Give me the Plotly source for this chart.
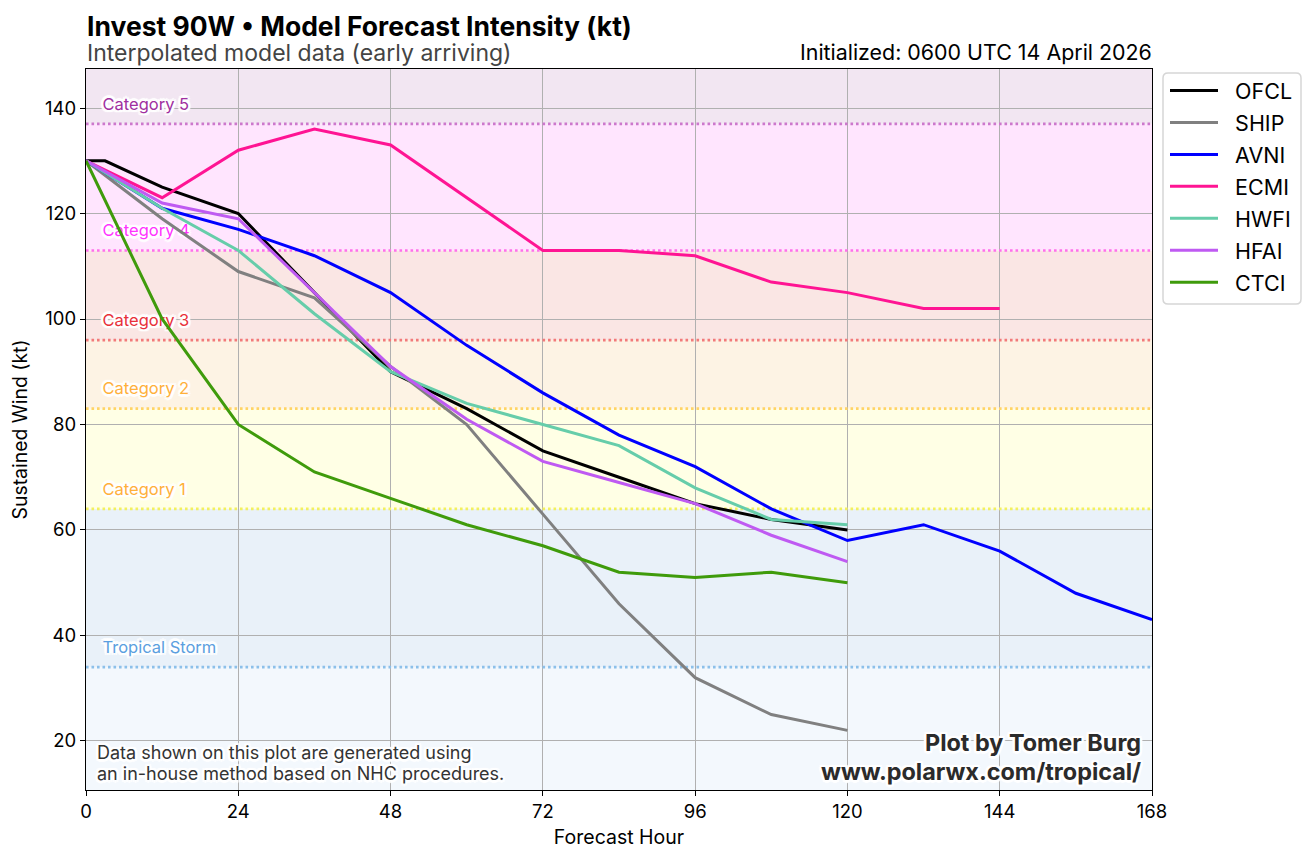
import plotly.graph_objects as go

FONT = "Inter"
HOURS_A = [0, 3, 12, 24, 36, 48, 60, 72, 84, 96, 108, 120]
HOURS = [0, 12, 24, 36, 48, 60, 72, 84, 96, 108, 120, 132, 144, 156, 168]

OFCL = [130, 130, 125, 120, 105, 90, 83, 75, 70, 65, 62, 60]
SHIP = [130, 119, 109, 104, 91, 80, 63, 46, 32, 25, 22]
AVNI = [130, 121, 117, 112, 105, 95, 86, 78, 72, 64, 58, 61, 56, 48, 43]
ECMI = [130, 123, 132, 136, 133, 123, 113, 113, 112, 107, 105, 102, 102]
HWFI = [130, 121, 113, 101, 90, 84, 80, 76, 68, 62, 61]
HFAI = [130, 122, 119, 105, 91, 81, 73, 69, 65, 59, 54]
CTCI = [130, 100, 80, 71, 66, 61, 57, 52, 51, 52, 50]

SERIES = [
    ("OFCL", HOURS_A, OFCL, "#000000"),
    ("SHIP", HOURS, SHIP, "#808080"),
    ("AVNI", HOURS, AVNI, "#0000ff"),
    ("ECMI", HOURS, ECMI, "#ff1493"),
    ("HWFI", HOURS, HWFI, "#66cdaa"),
    ("HFAI", HOURS, HFAI, "#bf5af2"),
    ("CTCI", HOURS, CTCI, "#3f9b0b"),
]

Y_MIN, Y_MAX = 10.7, 147.4
BAND_EDGES = [Y_MIN, 34, 64, 83, 96, 113, 137, Y_MAX]
BAND_FILLS = ["#f3f8fd", "#e9f1f9", "#ffffe5", "#fdf3e4", "#fae6e4", "#ffe5fe", "#f2e6f2"]
THRESHOLDS = [34, 64, 83, 96, 113, 137]
THRESH_COLORS = ["#8cc0ea", "#f2f060", "#ffd466", "#f27a7a", "#ff70ea", "#cc78cc"]
LABELS = ["Tropical Storm", "Category 1", "Category 2", "Category 3", "Category 4", "Category 5"]
LABEL_Y = [37.5, 67.5, 86.5, 99.5, 116.5, 140.5]
LABEL_COLORS = ["#5b9fe0", "#ffb03b", "#ffb03b", "#e8303a", "#ff33ff", "#a02fa0"]
LABEL_X = 2.6
HALO = ("-2px -2px 1px white, 2px -2px 1px white, -2px 2px 1px white, "
        "2px 2px 1px white, 0 2.5px 1px white, 0 -2.5px 1px white, 2.5px 0 1px white, -2.5px 0 1px white")

L, R, T, B = 86, 1152, 69, 790
PAGE_MARGIN = 8  # browser body margin around the plot div
fig = go.Figure()

for lab, y, c in zip(LABELS, LABEL_Y, LABEL_COLORS):
    fig.add_trace(go.Scatter(x=[LABEL_X], y=[y], mode="text", text=[lab], textposition="middle right",
                             textfont=dict(family=FONT, size=16.5, color=c, shadow=HALO),
                             showlegend=False, hoverinfo="skip"))

for name, x, y, c in SERIES:
    fig.add_trace(go.Scatter(x=x[:len(y)], y=y, mode="lines", name="\u00a0\u00a0" + name, legendgroup=name,
                             line=dict(color=c, width=3)))

shapes = []
for lo, hi, c in zip(BAND_EDGES[:-1], BAND_EDGES[1:], BAND_FILLS):
    shapes.append(dict(type="rect", xref="x", yref="y", x0=0, x1=168, y0=lo, y1=hi,
                       fillcolor=c, line_width=0, layer="below"))
for y, c in zip(THRESHOLDS, THRESH_COLORS):
    shapes.append(dict(type="line", xref="x", yref="y", x0=0, x1=168, y0=y, y1=y,
                       line=dict(color=c, width=2.6, dash="2.6px,2.9px"), layer="between"))

W = R - L
H = B - T
px = lambda v: (v - L) / W
py = lambda v: (B - v) / H
x0, x1, y0, y1, r = px(1163), px(1301), py(73), py(304), 5
rx, ry = r / W, r / H
shapes.append(dict(type="path", xref="paper", yref="paper", layer="above",
                   line=dict(color="#d6d6d6", width=1.5), fillcolor="white",
                   path=f"M{x0+rx},{y0} L{x1-rx},{y0} Q{x1},{y0} {x1},{y0-ry} L{x1},{y1+ry} Q{x1},{y1} {x1-rx},{y1} "
                        f"L{x0+rx},{y1} Q{x0},{y1} {x0},{y1+ry} L{x0},{y0-ry} Q{x0},{y0} {x0+rx},{y0} Z"))

notes = [
    dict(text="<b>Invest 90W • Model Forecast Intensity (kt)</b>", x=px(84.5), y=py(26), xanchor="left", yanchor="middle",
         font=dict(family=FONT, size=26.5, color="#000000")),
    dict(text="Interpolated model data (early arriving)", x=px(84.5), y=py(52.5), xanchor="left", yanchor="middle",
         font=dict(family=FONT, size=23, color="#444444")),
    dict(text="Initialized: 0600 UTC 14 April 2026", x=px(1154), y=py(52), xanchor="right", yanchor="middle",
         font=dict(family=FONT, size=21.4, color="#000000")),
    dict(text="Data shown on this plot are generated using", x=px(95), y=py(752), xanchor="left", yanchor="middle",
         font=dict(family=FONT, size=18, color="#333333", shadow=HALO)),
    dict(text="an in-house method based on NHC procedures.", x=px(95), y=py(773), xanchor="left", yanchor="middle",
         font=dict(family=FONT, size=18, color="#333333", shadow=HALO)),
    dict(text="<b>Plot by Tomer Burg</b>", x=px(1143), y=py(742), xanchor="right", yanchor="middle",
         font=dict(family=FONT, size=23.4, color="#2b2b2b", shadow=HALO)),
    dict(text="<b>www.polarwx.com/tropical/</b>", x=px(1143), y=py(771), xanchor="right", yanchor="middle",
         font=dict(family=FONT, size=23.4, color="#2b2b2b", shadow=HALO)),
]
for n in notes:
    n.update(xref="paper", yref="paper", showarrow=False)

axis_common = dict(showline=True, linecolor="black", linewidth=1.3, mirror=True, ticks="outside", ticklen=5,
                   tickcolor="black", showgrid=True, gridcolor="#b0b0b0", gridwidth=1.3, zeroline=False,
                   tickfont=dict(family=FONT, size=18.5, color="black"))
fig.update_layout(
    width=1314 - PAGE_MARGIN, height=860 - PAGE_MARGIN,
    margin=dict(l=L - PAGE_MARGIN, r=1314 - R, t=T - PAGE_MARGIN, b=860 - B, autoexpand=False),
    paper_bgcolor="white", plot_bgcolor="white", shapes=shapes, annotations=notes,
    xaxis=dict(range=[0, 168], tickvals=list(range(0, 169, 24)),
               title=dict(text="Forecast Hour", font=dict(family=FONT, size=19.5, color="black"), standoff=9), **axis_common),
    yaxis=dict(range=[Y_MIN, Y_MAX], tickvals=list(range(20, 141, 20)),
               title=dict(text="Sustained Wind (kt)", font=dict(family=FONT, size=19.4, color="black"), standoff=13), **axis_common),
    legend=dict(x=px(1165), y=py(70), xanchor="left", yanchor="top", bgcolor="rgba(0,0,0,0)", borderwidth=0,
                traceorder="grouped", tracegroupgap=1, itemwidth=48, itemclick=False,
                font=dict(family=FONT, size=21.5, color="black")),
    hovermode=False,
)
fig.write_html("out.html")
